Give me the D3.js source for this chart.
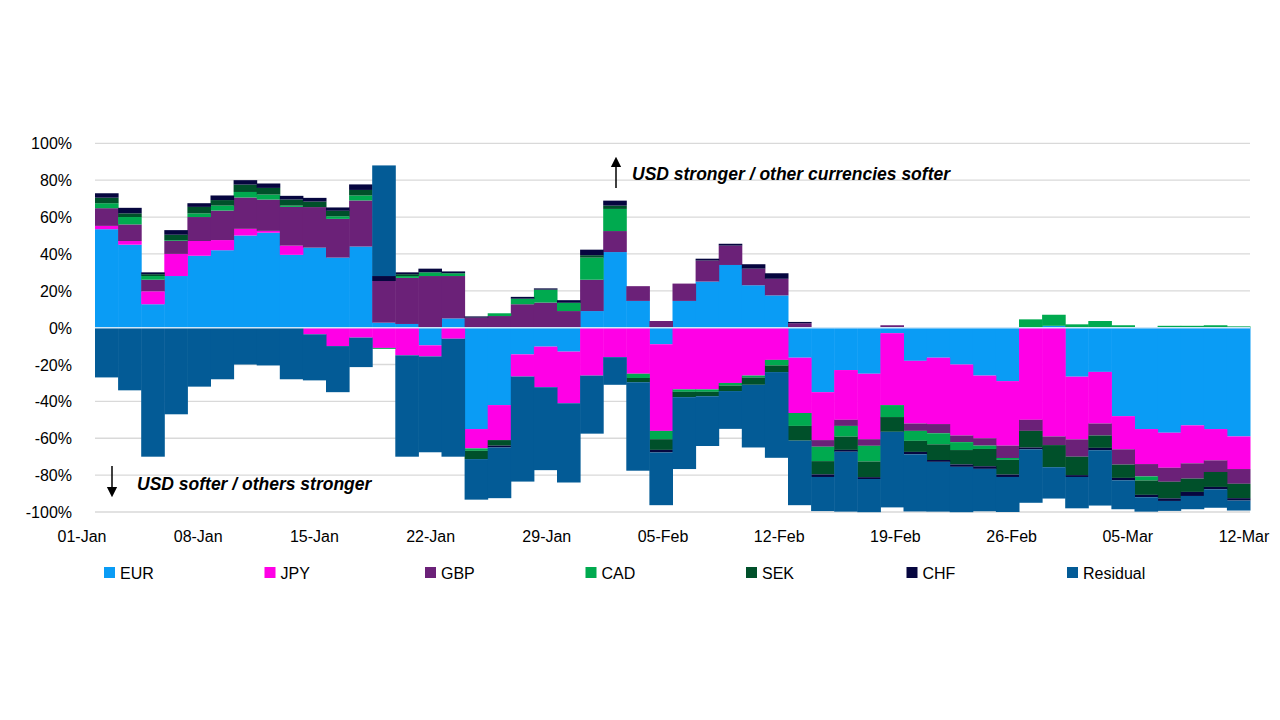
<!DOCTYPE html>
<html><head><meta charset="utf-8">
<script src="https://cdn.jsdelivr.net/npm/d3@7"></script>
<style>body{margin:0;background:#fff}text{font-family:Arial,"Liberation Sans",sans-serif}</style>
</head><body><svg id="c" width="1280" height="720"></svg>
<script>
const seriesNames=["EUR","JPY","GBP","CAD","SEK","CHF","Residual"];
const colors=["#0a9cf5","#ff00e6","#6b2178","#00aa4f","#00502a","#06063f","#035b96"];
const xLabels=["01-Jan","08-Jan","15-Jan","22-Jan","29-Jan","05-Feb","12-Feb","19-Feb","26-Feb","05-Mar","12-Mar"];
const yTicks=[100,80,60,40,20,0,-20,-40,-60,-80,-100];
const EUR=[53.4,45,12.7,28,39,42,50,51.5,39.5,43.4,38,44,2.7,2,-9.6,5,-55,-42,-14.5,-10.3,-13,9,41,14.5,-9,14.5,25,34,23,17.5,-16.3,-35,-23,-25,-3,-18,-16.3,-20,-26,-29,0,1,-26.6,-24,-48,-55,-57,-53,-55,-59];
const JPY=[1.8,2,7,12,8,5.5,3.6,1,5,-3.6,-10,-5.4,-11,-15,-6,-6,-10.5,-19,-12,-22,-28,-26,-16,-25,-47,-33.5,-33.5,-30,-26,-17.5,-30,-26,-27,-35.5,-39,-34,-36,-38.5,-34,-35,-50,-59,-34,-28,-18,-19,-19,-20.6,-17,-17.7];
const GBP=[9.6,9,6.3,7,13,16,17,17,21,22,21,25,22.6,25,28,23,5.4,6.3,12.7,13.6,9,17,11.4,8,3.6,9.4,11.4,10.5,9,9,2.4,-3.6,-3.3,-3.6,1.3,-4,-5,-3.6,-4,-6.7,-6,-4.7,-9.4,-6.5,-8.3,-6.7,-7.6,-8.3,-6.3,-8];
const CAD=[2.7,4,2,0.4,2,2.7,3,2.7,0.7,0,1.4,2.7,-0.5,1,2,1.5,-1.3,1.5,3,7,4.5,12,12,-2.3,-4.5,-1.3,-1.3,-1.4,-1,-3,-7,-7.8,-5.8,-8.5,-6.5,-5.4,-6,-4.3,-1.8,-1,4.5,6,1.8,3.6,1.3,-2.2,1,1,1.3,0.7];
const SEK=[3,2,1,3,3.5,3,4,3.6,3.3,3,3,3,0,1,0,0,-4.5,-3,0,0,0,1.3,1.8,-2.3,-5.8,-2.9,-2.4,-3,-4,-3.6,-8,-7.2,-7.2,-8.5,-8,-6,-8.5,-7.8,-9.4,-8,-9,-12,-10,-6.7,-7.2,-7.8,-9,-7.2,-8.1,-7.8];
const CHF=[2.4,3,1,2.5,2,2.5,2.4,2.4,2,2,1.8,3,2.7,1,2,1,0.7,-1,1,0.7,1.4,3,2.7,0,-1.4,0,1,1,2.4,3,0.7,-1.4,-1,-1,0,-1.3,-1,-1.3,-1.4,-1.3,-1,0,-1,-1.3,-1.3,-1.3,-1.4,-2.2,-1.3,-1.3];
const Residual=[-27,-34,-70,-47,-32,-28,-20,-20.5,-28,-25,-25,-16,60,-55,-52,-64,-22,-27.5,-57,-45,-43,-31.5,-15,-48,-28.6,-39,-27,-20.5,-34,-46.5,-35,-18.5,-32.5,-18,-41,-31,-27,-24.6,-23,-19,-29,-17,-17,-30,-15.7,-7.8,-5.4,-7.2,-10,-5.4];
const all=[EUR,JPY,GBP,CAD,SEK,CHF,Residual];
const rows=EUR.map((_,i)=>{const o={i};seriesNames.forEach((n,k)=>o[n]=all[k][i]);return o;});

const svg=d3.select("#c");
const L=95,R=1250,T=143.3,B=512;
const x=d3.scaleBand().domain(rows.map(r=>r.i)).range([L,R]).padding(0);
const y=d3.scaleLinear().domain([-100,100]).range([B,T]);
const xl=d3.scalePoint().domain(xLabels).range([82,1244]);

svg.append("g").selectAll("line").data(yTicks).join("line")
 .attr("x1",L).attr("x2",R).attr("y1",d=>y(d)).attr("y2",d=>y(d)).attr("stroke","#d9d9d9").attr("stroke-width",1.3);

const stack=d3.stack().keys(seriesNames).offset(d3.stackOffsetDiverging)(rows);
svg.append("g").selectAll("g").data(stack).join("g").attr("fill",(d,k)=>colors[k])
 .selectAll("rect").data(d=>d).join("rect")
 .attr("x",d=>x(d.data.i)).attr("width",x.bandwidth()+0.5)
 .attr("y",d=>y(Math.max(d[0],d[1]))).attr("height",d=>Math.abs(y(d[0])-y(d[1])));

svg.append("line").attr("x1",L).attr("x2",R).attr("y1",y(0)).attr("y2",y(0)).attr("stroke","#cfe6f7").attr("stroke-width",1.5);

svg.append("g").selectAll("text").data(yTicks).join("text")
 .attr("x",72).attr("y",d=>y(d)+6).attr("text-anchor","end").attr("font-size",16).attr("fill","#000")
 .text(d=>d+"%");
svg.append("g").selectAll("text").data(xLabels).join("text")
 .attr("x",d=>xl(d)).attr("y",542).attr("text-anchor","middle").attr("font-size",16).text(d=>d);

const lg=svg.append("g").selectAll("g").data(seriesNames).join("g")
 .attr("transform",(d,k)=>`translate(${104+k*160.5},567)`);
lg.append("rect").attr("width",11).attr("height",11).attr("fill",(d,k)=>colors[k]);
lg.append("text").attr("x",16).attr("y",11.5).attr("font-size",16).text(d=>d);

svg.append("defs").append("marker").attr("id","ah").attr("viewBox","0 0 10 10").attr("refX",5).attr("refY",5)
 .attr("markerWidth",7).attr("markerHeight",8).attr("orient","auto-start-reverse")
 .append("path").attr("d","M0,0L10,5L0,10z").attr("fill","#000");
svg.append("line").attr("x1",616).attr("x2",616).attr("y1",188).attr("y2",162).attr("stroke","#000").attr("stroke-width",1.5).attr("marker-end","url(#ah)");
svg.append("line").attr("x1",112).attr("x2",112).attr("y1",466).attr("y2",492).attr("stroke","#000").attr("stroke-width",1.5).attr("marker-end","url(#ah)");
svg.append("text").attr("x",632).attr("y",180).attr("font-size",17.5).attr("font-weight","bold").attr("font-style","italic").text("USD stronger / other currencies softer");
svg.append("text").attr("x",137).attr("y",490).attr("font-size",17.5).attr("font-weight","bold").attr("font-style","italic").text("USD softer / others stronger");
</script></body></html>
